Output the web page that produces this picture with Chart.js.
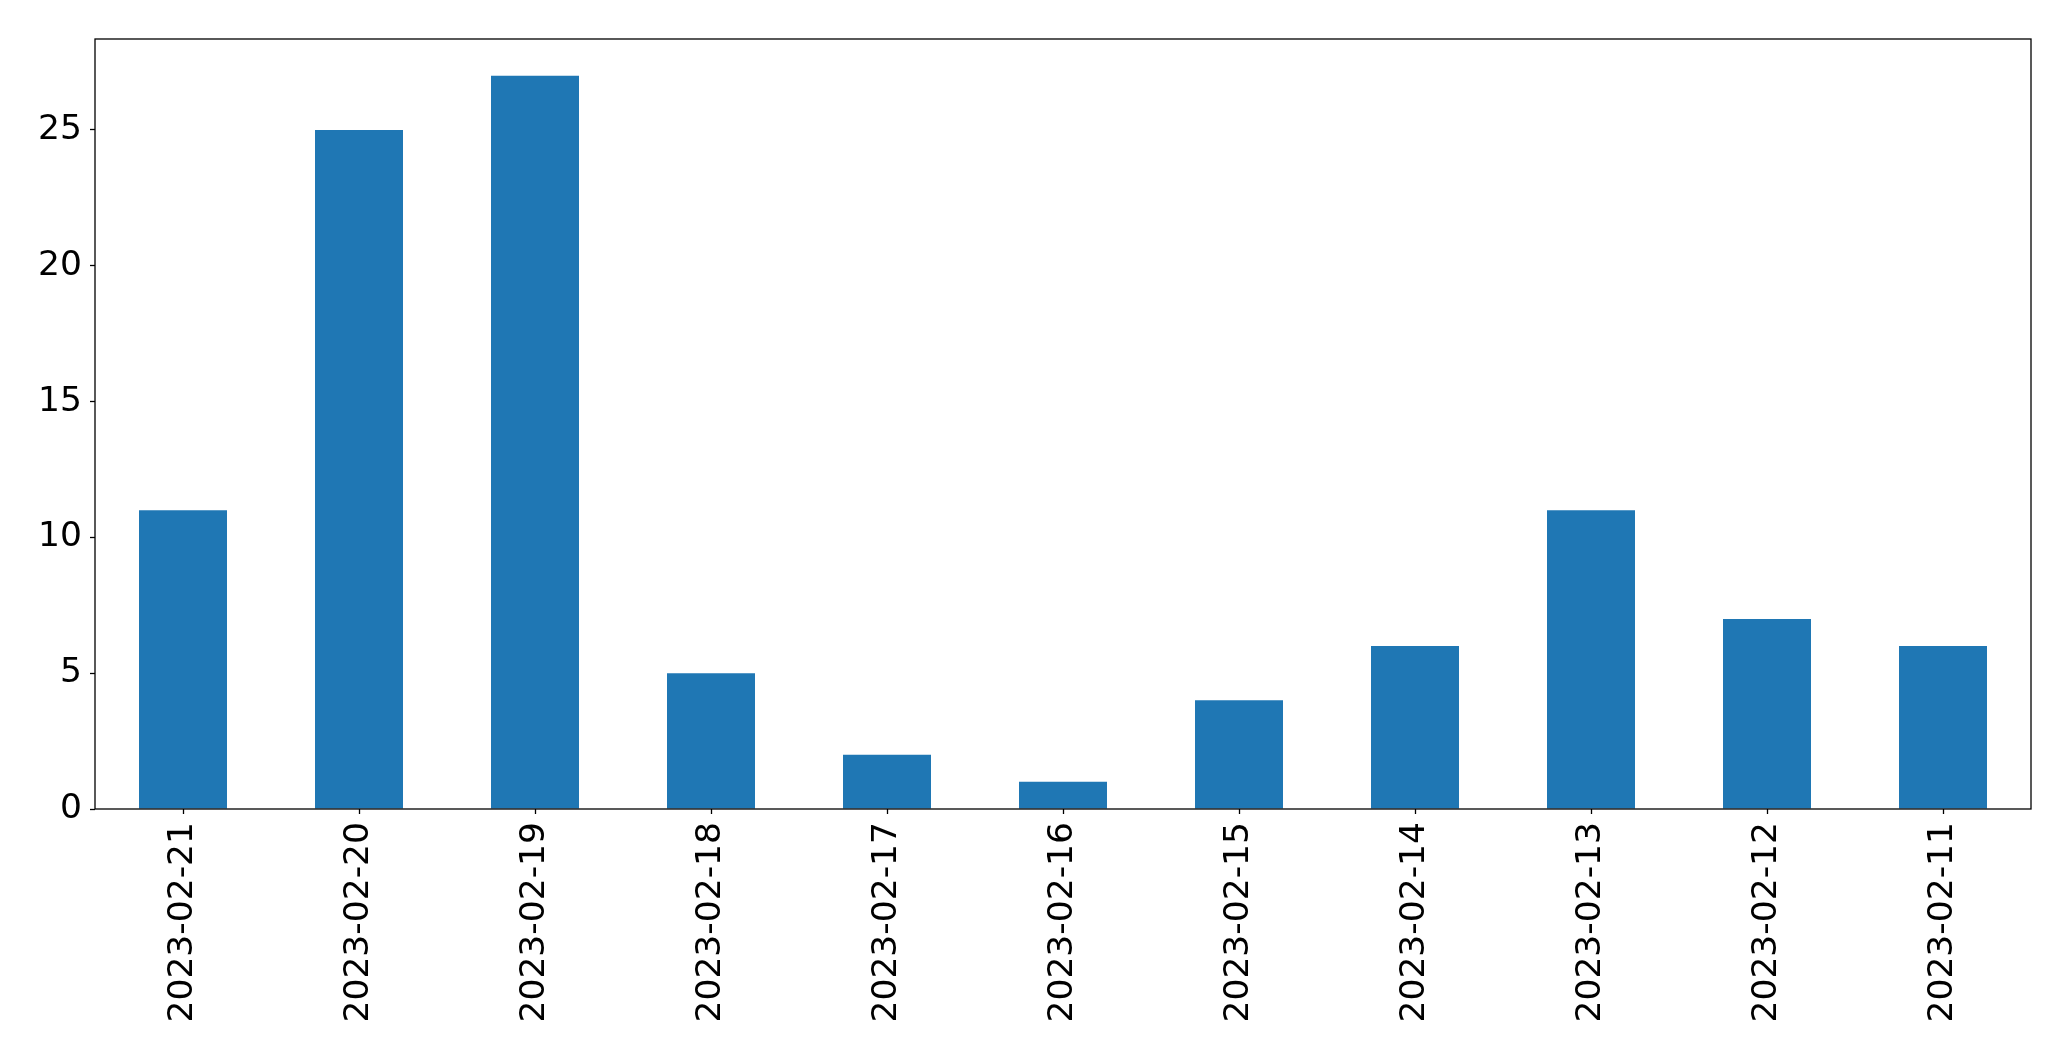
<!DOCTYPE html>
<html>
<head>
<meta charset="utf-8">
<script src="https://cdn.jsdelivr.net/npm/chart.js@4/dist/chart.umd.min.js"></script>
<style>
html,body{margin:0;padding:0;background:#fff;}
#wrap{width:2071px;height:1061px;position:relative;}
</style>
</head>
<body>
<div id="wrap"><canvas id="c" width="2071" height="1061"></canvas></div>
<script>
const categories = ["2023-02-21","2023-02-20","2023-02-19","2023-02-18","2023-02-17","2023-02-16","2023-02-15","2023-02-14","2023-02-13","2023-02-12","2023-02-11"];
const values = [11, 25, 27, 5, 2, 1, 4, 6, 11, 7, 6];
const yTicks = [0, 5, 10, 15, 20, 25];

const frame = {
  id: 'frame',
  afterDatasetsDraw(chart) {
    const a = chart.chartArea, ctx = chart.ctx;
    ctx.save();
    ctx.strokeStyle = '#000';
    ctx.lineWidth = 1.3;
    ctx.strokeRect(a.left, a.top, a.right - a.left, a.bottom - a.top);
    ctx.restore();
  }
};

new Chart(document.getElementById('c'), {
  type: 'bar',
  data: {
    labels: categories,
    datasets: [{
      data: values,
      backgroundColor: '#1f77b4',
      borderWidth: 0,
      categoryPercentage: 1.0,
      barPercentage: 0.5
    }]
  },
  options: {
    responsive: false,
    animation: false,
    devicePixelRatio: 1,
    layout: { padding: { top: 39, right: 40, left: 0, bottom: 0 } },
    plugins: { legend: { display: false }, tooltip: { enabled: false } },
    scales: {
      x: {
        offset: true,
        grid: { display: true, drawOnChartArea: false, drawTicks: true, tickLength: 5, tickColor: '#000', tickWidth: 1.3, offset: false },
        border: { display: false },
        ticks: { color: '#000', font: { family: 'DejaVu Sans', size: 34.5 }, minRotation: 90, maxRotation: 90, padding: 8, autoSkip: false },
        afterFit(s) { s.height = 1061 - 809; }
      },
      y: {
        min: 0,
        max: 28.35,
        grid: { display: true, drawOnChartArea: false, drawTicks: true, tickLength: 5, tickColor: '#000', tickWidth: 1.3 },
        border: { display: false },
        afterBuildTicks(s) { s.ticks = yTicks.map(v => ({ value: v })); },
        ticks: { color: '#000', font: { family: 'DejaVu Sans', size: 34.5 }, padding: 8 },
        afterFit(s) { s.width = 95; }
      }
    }
  },
  plugins: [frame]
});
</script>
</body>
</html>
